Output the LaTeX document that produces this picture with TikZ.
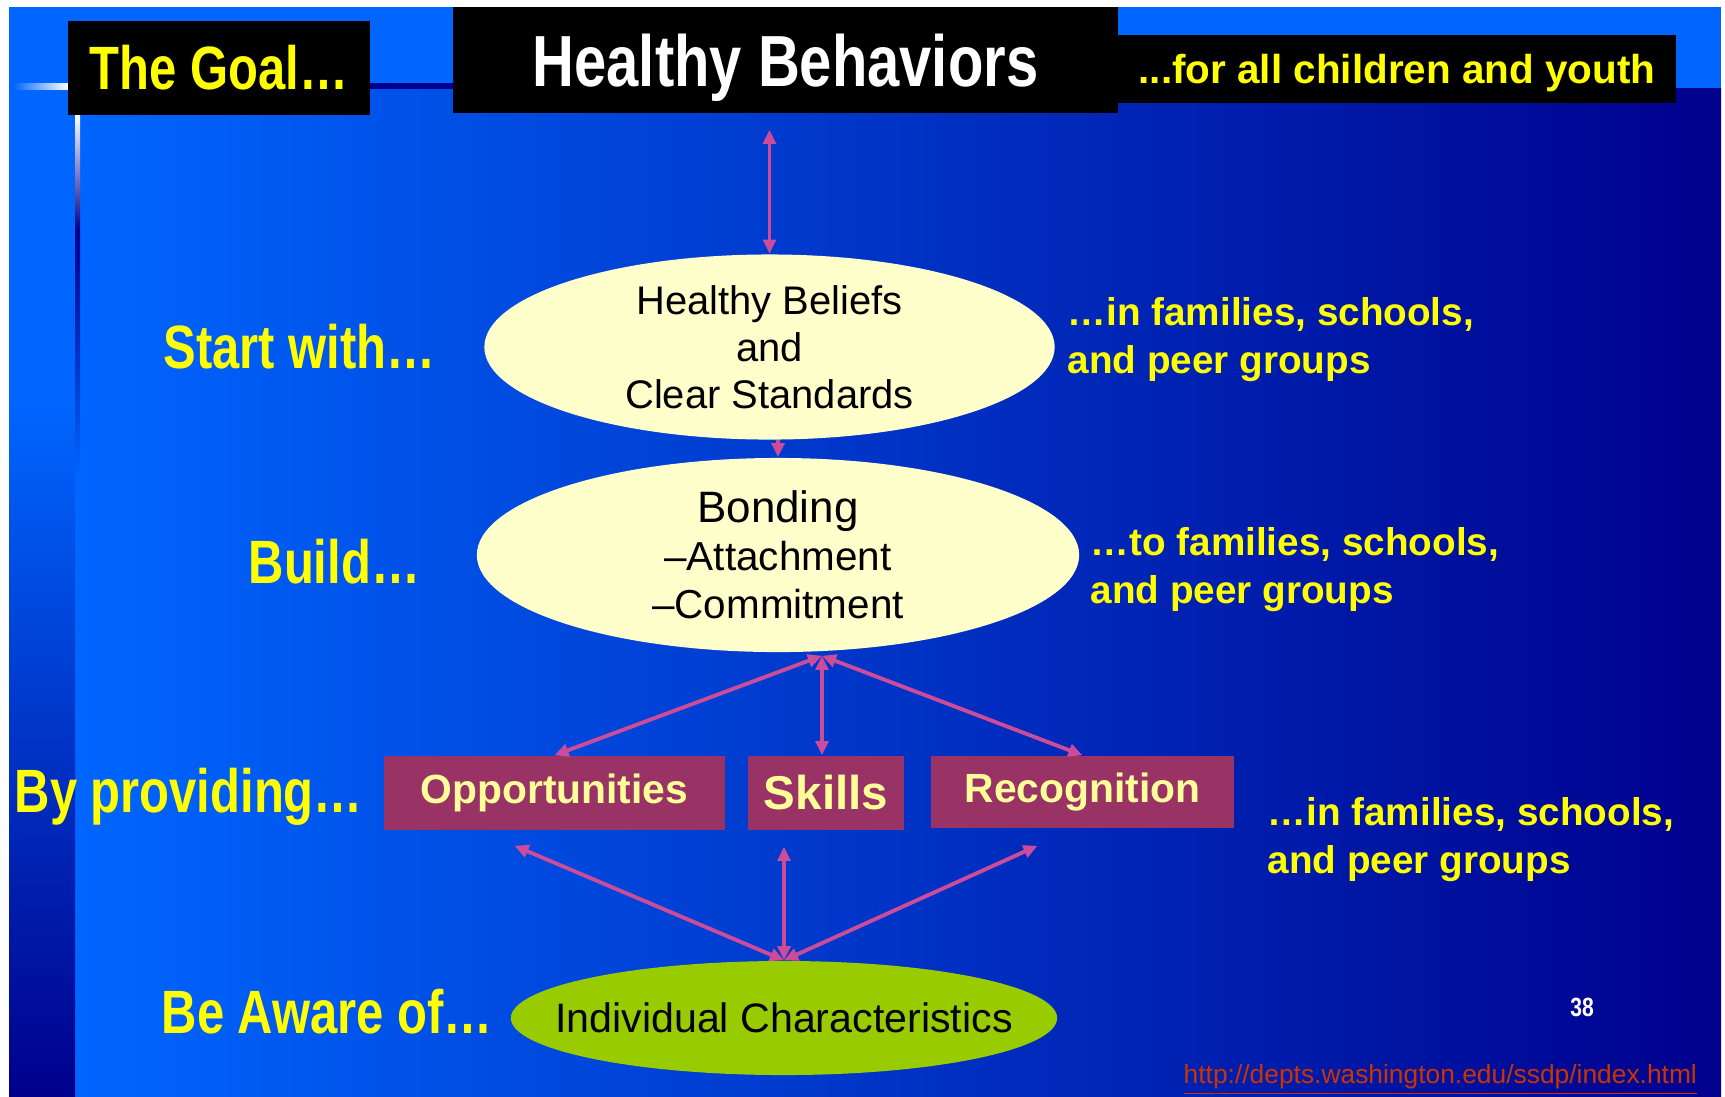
\documentclass[tikz,border=0pt]{standalone}
\usepackage{fontspec}
\setmainfont{Liberation Sans}
\newfontfamily\narrowsf[FakeStretch=0.8]{Liberation Sans}
\usepackage{xcolor}
\usepackage{tikz}
\usetikzlibrary{positioning,arrows.meta,shapes.geometric,calc}
\definecolor{slideblue}{HTML}{0066FF}
\definecolor{slidemid}{HTML}{0048D8}
\definecolor{slidenavy}{HTML}{00008C}
\definecolor{cream}{HTML}{FFFFCC}
\definecolor{leaf}{HTML}{99CC00}
\definecolor{plum}{HTML}{993366}
\definecolor{pinkarrow}{HTML}{CC4C99}
\definecolor{labelyellow}{HTML}{FFFF00}
\definecolor{boxtext}{HTML}{FFFF99}
\definecolor{urlred}{HTML}{CC3300}
\tikzset{
  blackbox/.style={fill=black,inner sep=0pt,align=center},
  oval/.style={ellipse,fill=cream,inner sep=0pt,align=center,text=black},
  plumbox/.style={fill=plum,inner sep=0pt,text=boxtext,
                  font=\bfseries\fontsize{11.6}{13}\selectfont},
  lefttag/.style={anchor=base west,text=labelyellow,inner sep=0pt,
                  font=\narrowsf\bfseries\fontsize{17.4}{20}\selectfont},
  righttag/.style={anchor=base west,text=labelyellow,inner sep=0pt,align=left,
                   font=\bfseries\fontsize{11}{13.6}\selectfont},
  link/.style={<->,>={Triangle[length=4pt,width=3.6pt]},draw=pinkarrow,line width=1.1pt}
}

\begin{document}
\begin{tikzpicture}[x=0.01cm,y=-0.01cm]
  \fill[white] (0,0) rectangle (1725,1096);
  \useasboundingbox (0,0) rectangle (1725,1096);
  \shade[left color=slideblue,middle color=slidemid,right color=slidenavy] (75,88) rectangle (1721,1096);
  \fill[slideblue] (9,88) rectangle (75,400);
  \shade[top color=slideblue,bottom color=slidenavy] (9,400) rectangle (75,1096);
  \fill[slideblue] (9,7) rectangle (1721,88);
  \shade[left color=slideblue,right color=white] (13,83) rectangle (68,89);
  \fill[slidenavy] (370,83) rectangle (453,89);
  \shade[top color=white,bottom color=slidenavy] (75,115) rectangle (80,230);
  \shade[top color=slidenavy,bottom color=slideblue] (75,230) rectangle (80,480);

  \node[blackbox,minimum width=3.02cm,minimum height=0.94cm,text=labelyellow,
        font=\narrowsf\bfseries\fontsize{17.4}{20}\selectfont] (goal) at (219,68) {The Goal…};
  \node[blackbox,minimum width=6.65cm,minimum height=1.06cm,text=white,text depth=0pt,
        font=\narrowsf\bfseries\fontsize{20.6}{24}\selectfont] (behav) at (785.5,60) {Healthy Behaviors};
  \node[blackbox,minimum width=5.58cm,minimum height=0.68cm,text=labelyellow,text depth=0pt,
        font=\bfseries\fontsize{11.5}{13}\selectfont] (youth) at (1397,69) {...for all children and youth};

  \node[oval,minimum width=5.7cm,minimum height=1.85cm,font=\fontsize{11.35}{13.4}\selectfont]
       (belief) at (769.5,347) {Healthy Beliefs\\and\\Clear Standards};
  \node[oval,minimum width=6.02cm,minimum height=1.94cm,font=\fontsize{11.5}{13.7}\selectfont]
       (bond) at (778,555) {{\fontsize{12.5}{13.7}\selectfont Bonding}\\–Attachment\\–Commitment};
  \node[oval,fill=leaf,inner xsep=-0.38cm,minimum width=5.46cm,minimum height=1.14cm,
        font=\fontsize{11.7}{14}\selectfont] (indiv) at (784,1018) {Individual Characteristics};

  \node[plumbox,minimum width=3.41cm,minimum height=0.74cm] (opp) at (554.5,793) {Opportunities};
  \node[plumbox,minimum width=1.56cm,minimum height=0.74cm,
        font=\bfseries\fontsize{13.5}{15}\selectfont] (skills) at (826,793) {Skills};
  \node[plumbox,minimum width=3.03cm,minimum height=0.72cm] (recog) at (1082.5,792) {Recognition};

  \node[lefttag] (startlbl) at (163,368) {Start with…};
  \node[lefttag] (buildlbl) at (248,583) {Build…};
  \node[lefttag] (providelbl) at (14,812) {By providing…};
  \node[lefttag] (awarelbl) at (161,1033) {Be Aware of…};

  \node[righttag] (inlbl) at (1067,373) {…in families, schools,\\and peer groups};
  \node[righttag] (tolbl) at (1090,603) {…to families, schools,\\and peer groups};
  \node[righttag] (peerlbl) at (1267,873) {…in families, schools,\\and peer groups};

  \node[text=white,inner sep=0pt,font=\narrowsf\bfseries\fontsize{7.5}{9}\selectfont] (pagenum) at (1582,1007) {38};
  \node[anchor=base west,inner sep=0pt,text=urlred,font=\fontsize{7.5}{9}\selectfont]
       (url) at (1183,1083) {\underline{http://depts.washington.edu/ssdp/index.html}};

  \draw[link,shorten >=0.16cm] (belief.north) -- (belief.north |- behav.south);
  \draw[link,->] (belief.south -| bond.north) -- (bond.north);
  \coordinate (hub) at ($(bond.south)+(44,3)$);
  \draw[link] (hub) -- (opp.north);
  \draw[link] (hub) -- (hub |- skills.north);
  \draw[link] (hub) -- (recog.north);
  \draw[link] (indiv.north) -- ($(opp.south)+(-40,15)$);
  \draw[link] (indiv.north) -- ($(indiv.north |- skills.south)+(0,16)$);
  \draw[link] (indiv.north) -- ($(recog.south)+(-45,17)$);
\end{tikzpicture}
\end{document}
